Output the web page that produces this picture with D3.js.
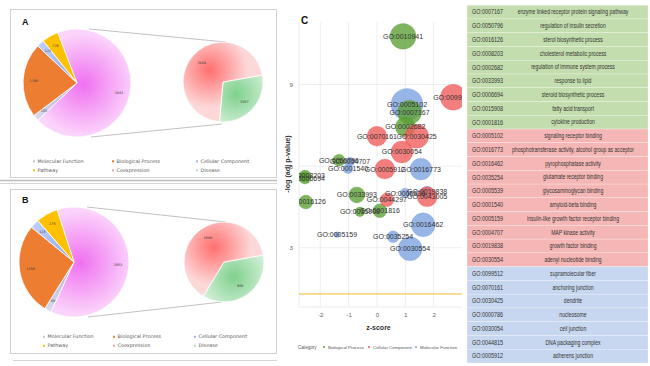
<!DOCTYPE html>
<meta charset="utf-8">
<script src="https://d3js.org/d3.v7.min.js"></script>
<style>
  body { margin: 0; background: #fff; }
  svg { display: block; }
</style>
<body>
</body>
<script>

  // ---------- pie data (panels A and B) ----------
  var mainCats = ["Other", "Molecular Function", "Biological Process", "Cellular Component", "Pathway"];
  var mainA = [3881, 103, 1260, 123, 278];
  var mainB = [2653, 86, 1156, 115, 275];
  var subCats = ["Disease", "Coexpression"];
  var subA = [1567, 3804];
  var subB = [968, 1686];
  var legendCats = ["Molecular Function", "Biological Process", "Cellular Component", "Pathway", "Coexpression", "Disease"];

  // ---------- bubble data (panel C) ----------
  var bubbleIds = ["GO:0005102", "GO:0016773", "GO:0004707", "GO:0001540", "GO:0005539", "GO:0019838", "GO:0016462", "GO:0035254", "GO:0030554", "GO:0005159",
                   "GO:0010941", "GO:0007167", "GO:0002682", "GO:0050796", "GO:0008203", "GO:0006694", "GO:0016126", "GO:0033993", "GO:0015908", "GO:0001816",
                   "GO:0099512", "GO:0030425", "GO:0070161", "GO:0030054", "GO:0005912", "GO:0044297", "GO:0043005"];
  var bubbleCat = ["MF", "MF", "MF", "MF", "MF", "MF", "MF", "MF", "MF", "MF",
                   "BP", "BP", "BP", "BP", "BP", "BP", "BP", "BP", "BP", "BP",
                   "CC", "CC", "CC", "CC", "CC", "CC", "CC"];
  var bubbleZ = [1.06, 1.55, -0.95, -1.02, 0.99, 1.77, 1.63, 0.57, 1.17, -1.41,
                 0.92, 1.15, 1.0, -1.34, -2.54, -2.54, -2.51, -0.71, -0.60, 0.10,
                 2.69, 1.40, 0.0, 0.88, 0.28, 0.35, 1.77];
  var bubbleLogP = [8.27, 5.89, 6.16, 5.9, 5.01, 5.05, 3.84, 3.40, 2.96, 3.48,
                    10.77, 7.98, 7.45, 6.22, 5.64, 5.56, 4.68, 4.94, 4.32, 4.36,
                    8.53, 7.1, 7.10, 6.52, 5.89, 4.76, 4.87];
  var bubbleCount = [64, 30, 5, 6, 6, 9, 36, 9, 36, 2,
                     42, 36, 25, 9, 9, 9, 12, 16, 6, 12,
                     42, 36, 25, 30, 25, 12, 25];
  var catNames = {BP: "Biological Process", CC: "Cellular Component", MF: "Molecular Function"};
  var xTicks = [-2, -1, 0, 1, 2];
  var yTicks = [3, 6, 9];
  var threshold = 1.3;

  // ---------- table ----------
  var tableIds = ["GO:0007167", "GO:0050796", "GO:0016126", "GO:0008203", "GO:0002682", "GO:0033993", "GO:0006694", "GO:0015908", "GO:0001816",
                  "GO:0005102", "GO:0016773", "GO:0016462", "GO:0035254", "GO:0005539", "GO:0001540", "GO:0005159", "GO:0004707", "GO:0019838", "GO:0030554",
                  "GO:0099512", "GO:0070161", "GO:0030425", "GO:0000786", "GO:0030054", "GO:0044815", "GO:0005912"];
  var tableTerms = ["enzyme linked receptor protein signaling pathway", "regulation of insulin secretion", "sterol biosynthetic process",
                    "cholesterol metabolic process", "regulation of immune system process", "response to lipid", "steroid biosynthetic process",
                    "fatty acid transport", "cytokine production",
                    "signaling receptor binding", "phosphotransferase activity, alcohol group as acceptor", "pyrophosphatase activity",
                    "glutamate receptor binding", "glycosaminoglycan binding", "amyloid-beta binding", "insulin-like growth factor receptor binding",
                    "MAP kinase activity", "growth factor binding", "adenyl nucleotide binding",
                    "supramolecular fiber", "anchoring junction", "dendrite", "nucleosome", "cell junction", "DNA packaging complex", "adherens junction"];
  var tableGroup = ["g", "g", "g", "g", "g", "g", "g", "g", "g",
                    "r", "r", "r", "r", "r", "r", "r", "r", "r", "r",
                    "b", "b", "b", "b", "b", "b", "b"];

  var width = 650, height = 366;

  var svg = d3.select("body").append("svg")
      .attr("width", width)
      .attr("height", height);

  var defs = svg.append("defs");

  svg.append("rect").attr("width", width).attr("height", height).attr("fill", "#fff");

  // ---------- panel frames ----------
  svg.append("rect").attr("x", 10.5).attr("y", 9.5).attr("width", 266).attr("height", 168)
    .attr("fill", "none").attr("stroke", "#d0d0d0");
  svg.append("line").attr("x1", 0).attr("x2", 277).attr("y1", 180.5).attr("y2", 180.5).attr("stroke", "#bdbdbd").attr("stroke-width", 1.5);
  svg.append("line").attr("x1", 0).attr("x2", 277).attr("y1", 183.5).attr("y2", 183.5).attr("stroke", "#d6d6d6");
  svg.append("rect").attr("x", 10.5).attr("y", 189.5).attr("width", 266).attr("height", 164)
    .attr("fill", "none").attr("stroke", "#d0d0d0");
  svg.append("line").attr("x1", 13).attr("x2", 277).attr("y1", 360.5).attr("y2", 360.5).attr("stroke", "#d6d6d6");

  var mainColors = [["#f070f0", "#fbd4fb"], ["#b4b4de", "#dcdcf2"], "#ed7d31", ["#93acf0", "#c3d2f8"], "#ffc000"];
  var subColors = [["#7fd08d", "#dcf3e0"], ["#ff6f6f", "#fdd8d8"]];
  var legendColors = ["#c3c3e6", "#ed7d31", "#9fb5f2", "#ffc000", "#f7a3a3", "#b3e2bb"];

  var gradN = 0;
  function drawPie(cx, cy, r, vals, cols, start, gradK, labelK) {
    var pie = d3.pie().sort(null).value(function(d) { return d; })
      .startAngle(start).endAngle(start + 2 * Math.PI);
    var arcs = pie(vals);
    var arc = d3.arc().innerRadius(0).outerRadius(r);
    var labArc = d3.arc().innerRadius(r * labelK).outerRadius(r * labelK);
    var gArc = d3.arc().innerRadius(r * gradK).outerRadius(r * gradK);
    var g = svg.append("g").attr("transform", "translate(" + cx + "," + cy + ")");

    arcs.forEach(function(a, i) {
      var c = cols[i], fill;
      if (Array.isArray(c)) {
        var id = "grad" + (gradN++);
        var p = gArc.centroid(a);
        // userSpaceOnUse is relative to the translated group
        var gr = defs.append("radialGradient").attr("id", id)
          .attr("gradientUnits", "userSpaceOnUse")
          .attr("cx", p[0]).attr("cy", p[1]).attr("r", r * 0.95);
        gr.append("stop").attr("offset", "0%").attr("stop-color", c[0]);
        gr.append("stop").attr("offset", "100%").attr("stop-color", c[1]);
        fill = "url(#" + id + ")";
      } else {
        fill = c;
      }
      g.append("path").attr("d", arc(a)).attr("fill", fill)
        .attr("stroke", "#fff").attr("stroke-width", 0.8);
    });

    g.selectAll(".plab").data(arcs).enter().append("text")
      .attr("class", "plab")
      .attr("x", function(d) { return labArc.centroid(d)[0]; })
      .attr("y", function(d) { return labArc.centroid(d)[1]; })
      .attr("dy", "0.35em")
      .attr("text-anchor", "middle")
      .attr("font-family", "DejaVu Sans")
      .attr("font-size", 3.4)
      .attr("fill", "#404040")
      .text(function(d) { return d.data; });
  }

  function connectors(p1, p2, p3, p4) {
    svg.append("line").attr("x1", p1[0]).attr("y1", p1[1]).attr("x2", p2[0]).attr("y2", p2[1])
      .attr("stroke", "#a6a6a6").attr("stroke-width", 0.7);
    svg.append("line").attr("x1", p3[0]).attr("y1", p3[1]).attr("x2", p4[0]).attr("y2", p4[1])
      .attr("stroke", "#a6a6a6").attr("stroke-width", 0.7);
  }

  function pieLegend(x0s, y0s) {
    legendCats.forEach(function(name, i) {
      var x = x0s[i % 3], y = y0s[Math.floor(i / 3)];
      svg.append("rect").attr("x", x - 1).attr("y", y - 2.2).attr("width", 2).attr("height", 2)
        .attr("fill", legendColors[i]);
      svg.append("text").attr("x", x + 3.5).attr("y", y)
        .attr("font-family", "DejaVu Sans").attr("font-size", 4.9)
        .attr("fill", "#595959").text(name);
    });
  }

  // panel A
  svg.append("text").attr("x", 22).attr("y", 24.5).attr("font-family", "Liberation Sans")
    .attr("font-weight", "bold").attr("font-size", 9).attr("fill", "#111").text("A");
  connectors([89, 29], [226, 42], [91, 137], [222, 124]);
  drawPie(77, 83, 54, mainA, mainColors, -21 * Math.PI / 180, 0.12, 0.8);
  drawPie(223, 82, 40, subA, subColors, 80 * Math.PI / 180, 0.45, 0.72);
  pieLegend([34, 113, 197], [162.5, 171.5]);

  // panel B
  svg.append("text").attr("x", 22).attr("y", 203).attr("font-family", "Liberation Sans")
    .attr("font-weight", "bold").attr("font-size", 9).attr("fill", "#111").text("B");
  connectors([87, 207], [226, 222], [88, 317], [222, 302]);
  drawPie(74, 262, 55, mainB, mainColors, -18 * Math.PI / 180, 0.12, 0.8);
  drawPie(224, 262, 40, subB, subColors, 80 * Math.PI / 180, 0.45, 0.72);
  pieLegend([44, 114, 195], [338, 347]);

  // ---------- panel C: bubble chart ----------
  var plot = {left: 299, right: 462, top: 22, bottom: 307};
  var xScale = d3.scaleLinear().domain([-2.75, 3.0]).range([plot.left, plot.right]);
  var yScale = d3.scaleLinear().domain([0.82, 11.3]).range([plot.bottom, plot.top]);
  var rScale = d3.scaleSqrt().domain([0, 64]).range([0, 16]);
  var catFill = {BP: "#5a9e32", CC: "#f05a5a", MF: "#7aa0e0"};

  svg.append("text").attr("x", 301).attr("y", 24).attr("font-family", "Liberation Sans")
    .attr("font-weight", "bold").attr("font-size", 10).attr("fill", "#111").text("C");

  var grid = svg.append("g");
  grid.selectAll(".vg").data(xTicks).enter().append("line")
    .attr("x1", function(d) { return xScale(d); }).attr("x2", function(d) { return xScale(d); })
    .attr("y1", plot.top).attr("y2", plot.bottom)
    .attr("stroke", "#e6e6e6").attr("stroke-width", 0.7);
  grid.selectAll(".hg").data(yTicks).enter().append("line")
    .attr("x1", plot.left).attr("x2", plot.right)
    .attr("y1", function(d) { return yScale(d); }).attr("y2", function(d) { return yScale(d); })
    .attr("stroke", "#e6e6e6").attr("stroke-width", 0.7);
  grid.append("line").attr("x1", plot.left).attr("x2", plot.left).attr("y1", plot.top).attr("y2", plot.bottom)
    .attr("stroke", "#e3e3e3").attr("stroke-width", 0.7);
  grid.append("line").attr("x1", plot.left).attr("x2", plot.right).attr("y1", plot.bottom).attr("y2", plot.bottom)
    .attr("stroke", "#e3e3e3").attr("stroke-width", 0.7);

  // threshold line
  svg.append("line").attr("x1", plot.left).attr("x2", plot.right)
    .attr("y1", yScale(threshold)).attr("y2", yScale(threshold))
    .attr("stroke", "#f5b935").attr("stroke-width", 1);

  // axes (tick text only, no domain lines)
  var xAxis = svg.append("g").attr("transform", "translate(0," + (plot.bottom + 3) + ")")
    .call(d3.axisBottom(xScale).tickValues(xTicks).tickSize(0).tickFormat(d3.format("d")));
  var yAxis = svg.append("g").attr("transform", "translate(" + (plot.left - 3) + ",0)")
    .call(d3.axisLeft(yScale).tickValues(yTicks).tickSize(0));
  [xAxis, yAxis].forEach(function(ax) {
    ax.select(".domain").remove();
    ax.selectAll("text").attr("font-family", "Liberation Sans").attr("font-size", 6.2).attr("fill", "#666");
  });
  xAxis.selectAll("text").text(function(d) { return d < 0 ? "-" + Math.abs(d) : d; });

  svg.append("text").attr("x", (plot.left + plot.right) / 2 - 2).attr("y", 330)
    .attr("text-anchor", "middle").attr("font-family", "Liberation Sans").attr("font-weight", "bold")
    .attr("font-size", 7).attr("fill", "#333").text("z-score");
  svg.append("text").attr("transform", "translate(290,164) rotate(-90)")
    .attr("text-anchor", "middle").attr("font-family", "Liberation Sans").attr("font-weight", "bold")
    .attr("font-size", 7.2).attr("fill", "#333").text("-log (adj p-value)");

  defs.append("clipPath").attr("id", "plotclip").append("rect")
    .attr("x", plot.left).attr("y", plot.top)
    .attr("width", plot.right - plot.left).attr("height", plot.bottom - plot.top);

  var bubbles = bubbleIds.map(function(id, i) {
    return {id: id, cat: bubbleCat[i], z: bubbleZ[i], p: bubbleLogP[i], n: bubbleCount[i]};
  });

  var bg = svg.append("g").attr("clip-path", "url(#plotclip)");
  bg.selectAll(".bub").data(bubbles).enter().append("circle")
    .attr("class", "bub")
    .attr("cx", function(d) { return xScale(d.z); })
    .attr("cy", function(d) { return yScale(d.p); })
    .attr("r", function(d) { return rScale(d.n); })
    .attr("fill", function(d) { return catFill[d.cat]; })
    .attr("fill-opacity", 0.78)
    .attr("stroke", function(d) { return catFill[d.cat]; })
    .attr("stroke-opacity", 0.5)
    .attr("stroke-width", 0.5);
  bg.selectAll(".blab").data(bubbles).enter().append("text")
    .attr("class", "blab")
    .attr("x", function(d) { return xScale(d.z); })
    .attr("y", function(d) { return yScale(d.p); })
    .attr("dy", "0.35em")
    .attr("text-anchor", "middle")
    .attr("font-family", "Liberation Sans")
    .attr("font-size", 7)
    .attr("fill", "#333")
    .text(function(d) { return d.id; });

  // chart legend
  var legY = 347;
  svg.append("text").attr("x", 298).attr("y", legY + 1.5).attr("font-family", "Liberation Sans")
    .attr("font-size", 4.6).attr("fill", "#555").text("Category");
  var legX = {BP: 324, CC: 369, MF: 416};
  ["BP", "CC", "MF"].forEach(function(k) {
    svg.append("circle").attr("cx", legX[k]).attr("cy", legY).attr("r", 1)
      .attr("fill", catFill[k]);
    svg.append("text").attr("x", legX[k] + 4).attr("y", legY + 1.5).attr("font-family", "Liberation Sans")
      .attr("font-size", 4.4).attr("fill", "#555").text(catNames[k]);
  });

  // ---------- table ----------
  var rowFill = {g: "#c4ddae", r: "#f5b7b5", b: "#c7d7f0"};
  var tX = 467, tW = 181, tTop = 5.2, rowH = 13.76;
  var rows = svg.append("g").selectAll(".row").data(tableIds).enter().append("g")
    .attr("transform", function(d, i) { return "translate(" + tX + "," + (tTop + i * rowH) + ")"; });
  rows.append("rect").attr("width", tW).attr("height", rowH)
    .attr("fill", function(d, i) { return rowFill[tableGroup[i]]; })
    .attr("stroke", "#fff").attr("stroke-opacity", 0.6).attr("stroke-width", 0.4);
  // narrow look: plain sans squeezed horizontally
  rows.append("g").attr("transform", "translate(5," + (rowH / 2) + ") scale(0.8,1)")
    .append("text").attr("dy", "0.35em")
    .attr("font-family", "Liberation Sans")
    .attr("font-size", 6.8).attr("fill", "#333")
    .text(function(d) { return d; });
  rows.append("g").attr("transform", "translate(106," + (rowH / 2) + ") scale(0.78,1)")
    .append("text").attr("dy", "0.35em")
    .attr("text-anchor", "middle")
    .attr("font-family", "Liberation Sans")
    .attr("font-size", 6.5).attr("fill", "#333")
    .text(function(d, i) { return tableTerms[i]; });

</script>
